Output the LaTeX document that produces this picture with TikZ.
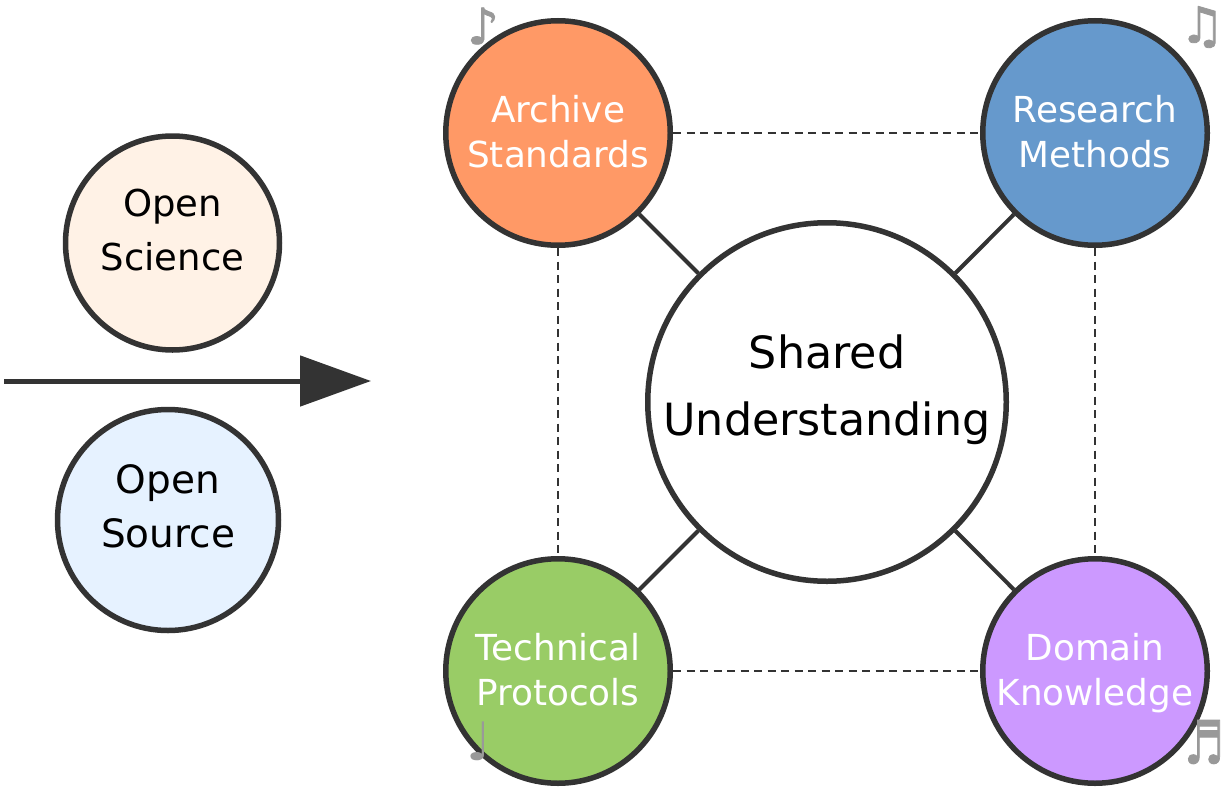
\documentclass[tikz,border=0pt]{standalone}
\usepackage{fontspec}
\setmainfont{DejaVu Sans}
\newfontfamily\notefont[FakeBold=1.5]{DejaVu Sans}
\usetikzlibrary{arrows.meta}
\definecolor{ink}{HTML}{333333}
\definecolor{notegrey}{HTML}{999999}
\tikzset{
  x=1pt,y=-1pt,
  hub/.style={circle,draw=ink,line width=5.5pt,inner sep=0pt,align=center,text=black},
  topic/.style={hub,minimum size=214pt,text depth=26pt,font=\fontsize{37}{54}\selectfont},
  corner/.style={hub,minimum size=224.5pt,text=white,text depth=4pt,font=\fontsize{35.8}{45}\selectfont},
  spoke/.style={draw=ink,line width=4pt},
  link/.style={draw=ink,line width=1.6pt,dash pattern=on 8pt off 5.5pt},
  note/.style={text=notegrey,inner sep=0pt},
  flow/.style={draw=ink,line width=5pt,-{Triangle[length=71pt,width=50pt,fill=ink]}}
}
\begin{document}
\begin{tikzpicture}
\useasboundingbox (0,0) rectangle (1222,787);
\fill[white] (0,0) rectangle (1222,787);
\node[hub,minimum size=358.5pt,text depth=33pt,font=\fontsize{44.4}{67}\selectfont,fill=white] (c) at (827,402) {Shared\\Understanding};
\node[corner,fill={rgb,255:red,255;green,153;blue,102}] (a) at (558,133) {Archive\\Standards};
\node[corner,fill={rgb,255:red,102;green,153;blue,204}] (r) at (1095,133) {Research\\Methods};
\node[corner,fill={rgb,255:red,153;green,204;blue,102}] (t) at (558,671) {Technical\\Protocols};
\node[corner,fill={rgb,255:red,204;green,153;blue,255}] (d) at (1095,671) {Domain\\Knowledge};
\node[topic,fill={rgb,255:red,255;green,242;blue,230}] (s) at (172.5,243) {Open\\Science};
\node[topic,minimum size=221pt,text depth=28pt,font=\fontsize{39}{54}\selectfont,fill={rgb,255:red,230;green,242;blue,255}] (o) at (168,520) {Open\\Source};
\draw[spoke] (c) -- (a);
\draw[spoke] (c) -- (r);
\draw[spoke] (c) -- (t);
\draw[spoke] (c) -- (d);
\draw[link] (a) -- (r);
\draw[link] (t) -- (d);
\draw[link] (a) -- (t);
\draw[link] (r) -- (d);
\coordinate (fs) at (4,381);
\coordinate (fe) at (371,381);
\draw[flow] (fs) -- (fe);
\node[note,font=\notefont\fontsize{50}{50}\selectfont] (n1) at (483,26) {♪};
\node[note,font=\notefont\fontsize{50}{50}\selectfont] (n2) at (1202,27) {♫};
\node[note,font=\notefont\fontsize{44}{44}\selectfont] (n3) at (1204,742) {\scalebox{1}[1.36]{♬}};
\node[note,font=\fontsize{53}{53}\selectfont] (n4) at (479,741) {♩};
\end{tikzpicture}
\end{document}
